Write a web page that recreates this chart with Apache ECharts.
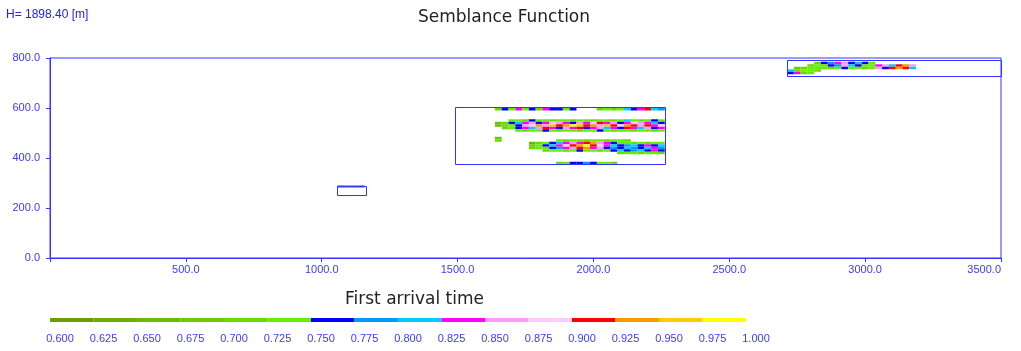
<!DOCTYPE html>
<html>
<head>
<meta charset="utf-8">
<script src="https://cdn.jsdelivr.net/npm/echarts@6/dist/echarts.min.js"></script>
<style>
html,body{margin:0;padding:0;background:#fff;}
#chart{width:1021px;height:351px;}
</style>
</head>
<body>
<div id="chart"></div>
<script>
// ---------- data ----------
const xTicks = [0, 500, 1000, 1500, 2000, 2500, 3000, 3500];
const yTicks = [0, 200, 400, 600, 800];
const legendStops = [0.600,0.625,0.650,0.675,0.700,0.725,0.750,0.775,0.800,0.825,0.850,0.875,0.900,0.925,0.950,0.975,1.000];
const headerLabel = 'H= 1898.40 [m]';
const chartTitle = 'Semblance Function';
const legendTitle = 'First arrival time';

// analysis windows [xMin, yMin, xMax, yMax]
const windows = [
  [1055, 255, 1160, 290],
  [1490, 376, 2262, 603],
  [2712, 727, 3500, 791]
];

// semblance rows: [y, xStart, values...] (cells every 25 m along x)
const smallWinRows = [
  [286, 1070, [0.64,0.66,0.66,0.64]]
];
const midTopRows = [
  [595, 1650, [0.71,0.76,0.74,0.84,0.74,0.76,0.71,0.84,0.76,0.76,0.74,0.76,null,null,null,0.71,0.74,0.71,0.74,0.81,0.76,0.84,0.91,0.81,0.79]]
];
const midUpperRows = [
  [550, 1700, [0.74,0.74,0.71,0.76,0.74,0.74,0.71,0.74,0.74,0.71,0.74,0.74,0.71,0.74,0.74,0.71,0.74,0.81,0.74,0.71,0.74,0.76,0.74]],
  [540, 1650, [0.69,0.71,0.76,0.81,0.84,0.86,0.76,0.84,0.89,0.86,0.84,0.76,0.86,0.84,0.89,0.91,0.84,0.86,0.76,0.84,0.89,0.86,0.84,0.81,0.76]],
  [530, 1650, [0.66,0.71,0.74,0.76,0.86,0.89,0.94,0.86,0.96,0.91,0.94,0.99,0.96,0.91,0.94,0.86,0.96,0.91,0.89,0.94,0.91,0.86,0.91,0.84,0.89]],
  [520, 1675, [0.71,0.74,0.76,0.84,0.81,0.86,0.91,0.84,0.76,0.86,0.84,0.91,0.76,0.84,0.86,0.81,0.84,0.76,0.91,0.84,0.81,0.86,0.76,0.84]],
  [510, 1725, [0.74,0.71,0.74,0.74,0.76,0.74,0.71,0.74,0.74,0.71,0.74,0.74,0.76,0.74,0.71,0.74,0.74,0.71,0.74,0.74,0.71,0.74]]
];
const midDotRows = [
  [480, 1650, [0.69]],
  [470, 1650, [0.71]]
];
const midLowerRows = [
  [470, 1875, [0.74,0.71,0.74,0.74,0.71,0.74,0.74,0.71,0.74,0.74,0.71]],
  [460, 1775, [0.66,0.71,0.74,0.76,0.81,0.84,0.86,0.84,0.91,0.94,0.86,0.84,0.76,0.74,0.74,0.71,0.74,0.71,0.74,0.74]],
  [450, 1775, [0.69,0.74,0.76,0.81,0.84,0.89,0.91,0.94,0.99,0.91,0.89,0.84,0.81,0.76,0.79,0.81,0.76,0.84,0.76,0.81]],
  [440, 1775, [0.71,0.74,0.74,0.76,0.79,0.84,0.86,0.91,0.94,0.84,0.86,0.76,0.79,0.76,0.81,0.79,0.76,0.81,0.84,0.79]],
  [430, 1825, [0.71,0.74,0.74,0.71,0.74,0.76,0.74,0.74,0.71,0.74,0.76,0.81,0.76,0.79,0.81,0.76,0.84,0.76]],
  [420, 2100, [0.71,0.74,0.74,0.71,0.74,0.74,0.71]]
];
const midBottomRows = [
  [380, 1875, [0.71,0.74,0.76,0.76,0.79,0.76,0.74,0.74,0.71]]
];
const rightWinRows = [
  [780, 2825, [0.71,0.76,0.79,0.84,0.86,0.76,0.81,0.76,0.74]],
  [770, 2800, [0.71,0.74,0.74,0.76,0.79,0.86,0.81,0.76,0.74,0.74,0.84,0.86,0.81,0.91,0.94,0.86]],
  [760, 2750, [0.69,0.71,0.74,0.74,0.74,0.71,0.74,0.76,0.74,0.74,0.71,0.74,0.86,0.76,0.91,0.94,0.91,0.81]],
  [750, 2725, [0.81,0.71,0.74,0.74,0.71]],
  [740, 2725, [0.76,0.84,0.71,0.74]]
];

// ---------- styles ----------
const DX = 25, DY = 10;
const palette = ['#6a9e00','#6cad00','#6dbb00','#6bca00','#68da00','#66ee00',
  '#0000ff','#0099ff','#00ccff','#ff00ff','#ff99ff','#ffccff',
  '#ff0000','#ff9900','#ffcc00','#ffff00'];
const BLUE = '#3434ff';
const LABEL = '#3a3aff';

function colorOf(v){
  let i = -1;
  for (let k = 0; k < legendStops.length - 1; k++) {
    if (v >= legendStops[k]) i = k;
  }
  return palette[Math.max(0, Math.min(palette.length - 1, i))];
}

const allRows = [].concat(smallWinRows, midTopRows, midUpperRows, midDotRows, midLowerRows, midBottomRows, rightWinRows);
const cells = [];
allRows.forEach(([y, x0, vals]) => {
  vals.forEach((v, i) => { if (v != null) cells.push([x0 + i * DX, y, v]); });
});
const legendSegs = legendStops.slice(0, -1).map((s, i) => [s, legendStops[i + 1], i]);

const chart = echarts.init(document.getElementById('chart'), null, {renderer: 'canvas'});
chart.setOption({
  animation: false,
  backgroundColor: '#ffffff',
  title: {
    text: chartTitle, left: 413, top: 4,
    textStyle: {fontFamily: 'DejaVu Sans', fontSize: 17, fontWeight: 'normal', color: '#222'}
  },
  graphic: [
    {type: 'text', left: 6, top: 9, style: {text: headerLabel, font: '12px "Liberation Sans"', fill: '#2020ff'}},
    {type: 'text', left: 345, top: 291, style: {text: legendTitle, font: '17px "DejaVu Sans"', fill: '#222'}}
  ],
  grid: [
    {left: 50, top: 58, width: 951, height: 200, show: true, borderColor: BLUE, borderWidth: 1, backgroundColor: 'transparent'},
    {left: 50, top: 318, width: 696, height: 4, show: false}
  ],
  xAxis: [
    {
      type: 'value', gridIndex: 0, min: xTicks[0], max: xTicks[xTicks.length - 1], interval: xTicks[1] - xTicks[0],
      axisLine: {lineStyle: {color: BLUE, width: 1}},
      axisTick: {show: true, length: 4, lineStyle: {color: BLUE}},
      splitLine: {show: false},
      axisLabel: {color: LABEL, fontFamily: 'Liberation Sans', fontSize: 11, margin: 6,
        alignMaxLabel: 'right',
        formatter: v => v === 0 ? '' : v.toFixed(1)}
    },
    {
      type: 'value', gridIndex: 1, min: legendStops[0], max: legendStops[legendStops.length - 1], interval: 0.025,
      axisLine: {show: false}, axisTick: {show: false}, splitLine: {show: false},
      axisLabel: {color: LABEL, fontFamily: 'Liberation Sans', fontSize: 11, margin: 11,
        padding: [0, 0, 0, 20], hideOverlap: false,
        formatter: v => v.toFixed(3)}
    }
  ],
  yAxis: [
    {
      type: 'value', gridIndex: 0, min: yTicks[0], max: yTicks[yTicks.length - 1], interval: yTicks[1] - yTicks[0],
      axisLine: {show: true, lineStyle: {color: BLUE, width: 1}},
      axisTick: {show: true, length: 4, lineStyle: {color: BLUE}},
      splitLine: {show: false},
      axisLabel: {color: LABEL, fontFamily: 'Liberation Sans', fontSize: 11, margin: 10,
        formatter: v => v.toFixed(1)}
    },
    {type: 'value', gridIndex: 1, min: 0, max: 1, show: false}
  ],
  series: [
    {
      type: 'custom', xAxisIndex: 0, yAxisIndex: 0, data: cells, clip: true, z: 2,
      renderItem: (params, api) => {
        const x = api.value(0), y = api.value(1), v = api.value(2);
        const p0 = api.coord([x - DX / 2, y + DY / 2]);
        const p1 = api.coord([x + DX / 2, y - DY / 2]);
        return {type: 'rect', shape: {x: p0[0], y: p0[1], width: p1[0] - p0[0], height: p1[1] - p0[1]},
          style: {fill: colorOf(v)}};
      }
    },
    {
      type: 'custom', xAxisIndex: 0, yAxisIndex: 0, data: windows, z: 3,
      renderItem: (params, api) => {
        const p0 = api.coord([api.value(0), api.value(3)]);
        const p1 = api.coord([api.value(2), api.value(1)]);
        return {type: 'rect', shape: {x: Math.round(p0[0]) + 0.5, y: Math.round(p0[1]) + 0.5,
          width: Math.round(p1[0] - p0[0]), height: Math.round(p1[1] - p0[1])},
          style: {fill: 'none', stroke: BLUE, lineWidth: 1}};
      }
    },
    {
      type: 'custom', xAxisIndex: 1, yAxisIndex: 1, data: legendSegs, z: 2,
      renderItem: (params, api) => {
        const p0 = api.coord([api.value(0), 1]);
        const p1 = api.coord([api.value(1), 0]);
        return {type: 'rect', shape: {x: p0[0], y: p0[1], width: p1[0] - p0[0], height: p1[1] - p0[1]},
          style: {fill: palette[api.value(2)]}};
      }
    }
  ]
});
</script>
</body>
</html>
